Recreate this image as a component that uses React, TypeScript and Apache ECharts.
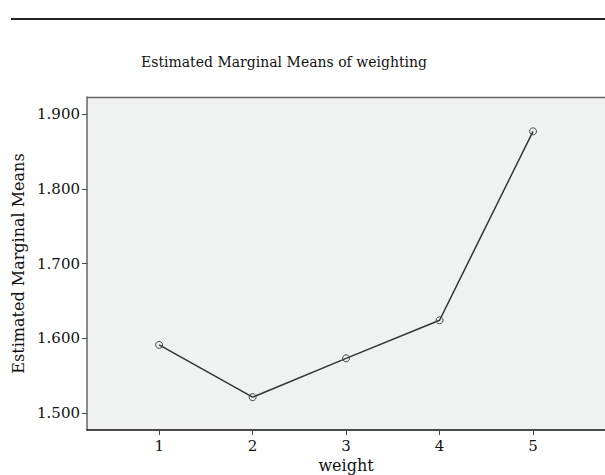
import React, { useEffect, useRef } from "react";
import * as echarts from "echarts";

const weights = [1, 2, 3, 4, 5];
const means = [1.591, 1.521, 1.573, 1.624, 1.877];
const yTicks = [1.5, 1.6, 1.7, 1.8, 1.9];
const xTicks = [1, 2, 3, 4, 5];

const FONT = "DejaVu Serif";

export default function App() {
  const ref = useRef<HTMLDivElement>(null);
  useEffect(() => {
    if (!ref.current) return;
    const chart = echarts.init(ref.current, undefined, { renderer: "svg" });
    chart.setOption({
      animation: false,
      backgroundColor: "#ffffff",
      title: {
        text: "Estimated Marginal Means of weighting",
        left: 279,
        top: 50,
        textAlign: "center",
        textStyle: { fontFamily: FONT, fontSize: 14, fontWeight: "normal", color: "#111" },
      },
      graphic: [
        {
          type: "line",
          shape: { x1: 11, y1: 19, x2: 605, y2: 19 },
          style: { stroke: "#222", lineWidth: 2 },
        },
        {
          type: "line",
          shape: { x1: 87, y1: 97.5, x2: 605, y2: 97.5 },
          style: { stroke: "#666", lineWidth: 1.5 },
        },
      ],
      grid: {
        left: 87,
        top: 97,
        right: 0,
        bottom: 45,
        containLabel: false,
        outerBoundsMode: "none",
        show: true,
        backgroundColor: "#f0f1f1",
        borderWidth: 0,
      },
      xAxis: {
        type: "value",
        min: 0.228,
        max: 5.77,
        name: "weight",
        nameLocation: "middle",
        nameGap: 27,
        nameTextStyle: { fontFamily: FONT, fontSize: 16, color: "#111" },
        axisLine: { show: true, lineStyle: { color: "#111", width: 1.5 } },
        axisTick: { show: true, customValues: xTicks, length: 5, lineStyle: { color: "#444" } },
        axisLabel: {
          customValues: xTicks,
          fontFamily: FONT,
          fontSize: 15,
          color: "#111",
          margin: 8,
        },
        splitLine: { show: false },
      },
      yAxis: {
        type: "value",
        min: 1.477,
        max: 1.923,
        name: "Estimated Marginal Means",
        nameLocation: "middle",
        nameGap: 61,
        nameRotate: 90,
        nameTextStyle: { fontFamily: FONT, fontSize: 16, color: "#111" },
        axisLine: { show: true, lineStyle: { color: "#666", width: 1.5 } },
        axisTick: { show: true, customValues: yTicks, length: 5, lineStyle: { color: "#444" } },
        axisLabel: {
          customValues: yTicks,
          formatter: (v: number) => v.toFixed(3),
          fontFamily: FONT,
          fontSize: 15,
          color: "#111",
          margin: 7,
        },
        splitLine: { show: false },
      },
      series: [
        {
          type: "line",
          data: weights.map((w, i) => [w, means[i]]),
          symbol: "circle",
          symbolSize: 7,
          itemStyle: { color: "transparent", borderColor: "#444", borderWidth: 1 },
          lineStyle: { color: "#333", width: 1.5 },
        },
      ],
    });
    return () => chart.dispose();
  }, []);
  return (
    <div
      ref={ref}
      style={{ position: "fixed", left: 0, top: 0, width: 605, height: 475 }}
    />
  );
}
